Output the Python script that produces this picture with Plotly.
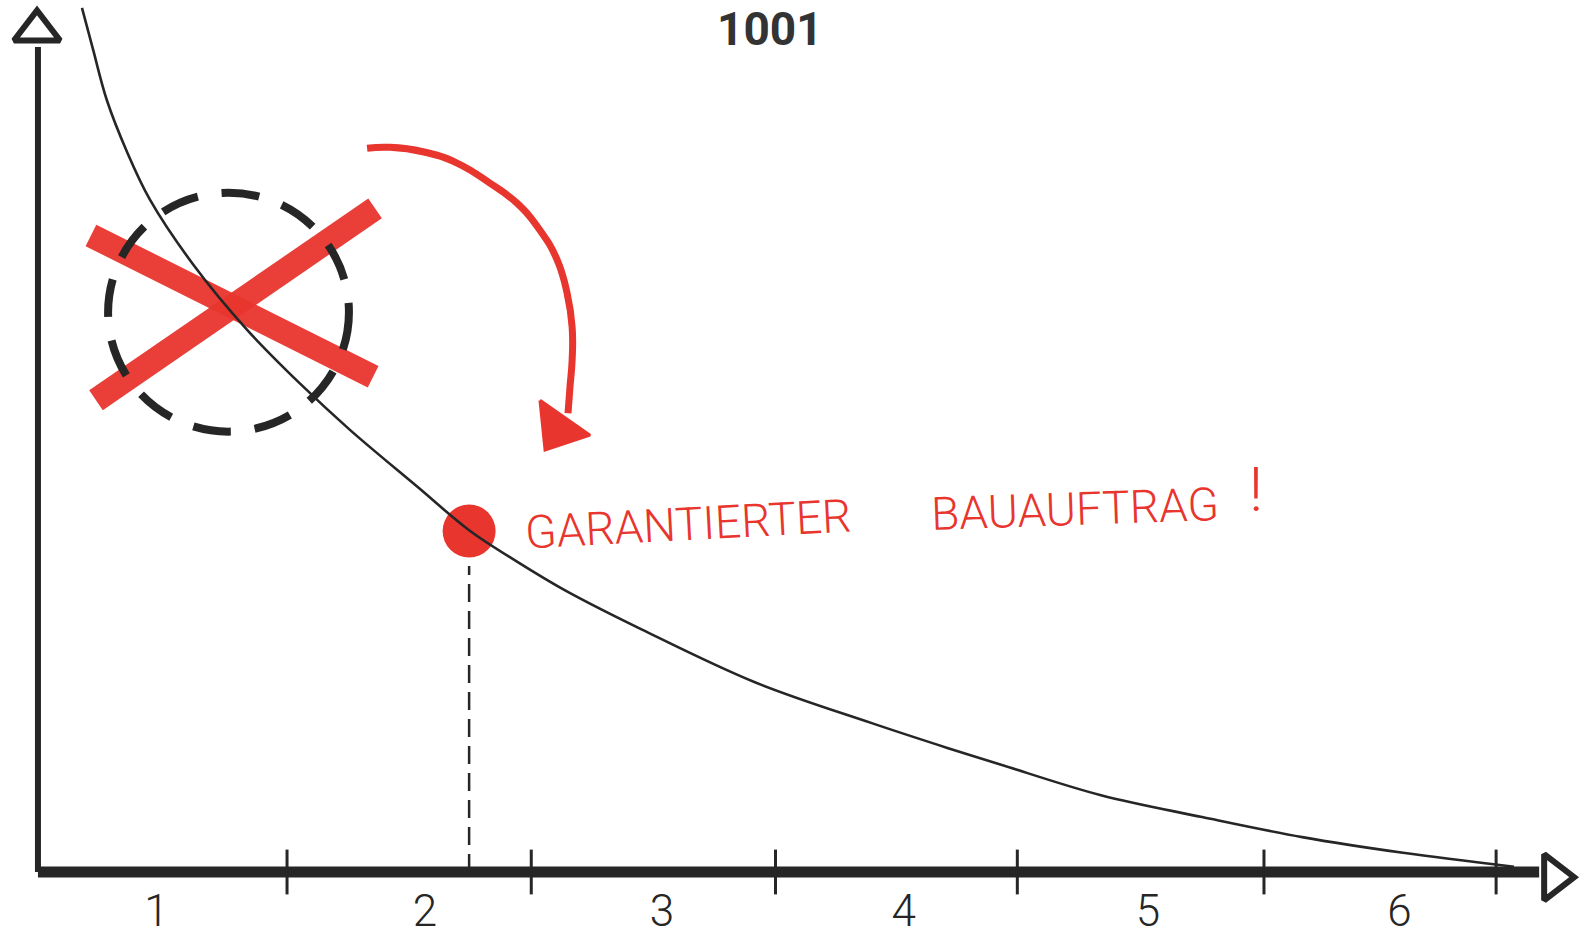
import plotly.graph_objects as go

# ---------------- data ----------------
tick_labels = ["1", "2", "3", "4", "5", "6"]
label_x = [0.96, 2.07, 3.05, 4.05, 5.06, 6.10]
label_y = [-4.95] * 6
tick_x = [1.5, 2.51, 3.52, 4.52, 5.54, 6.5]

curve_x = [0.652, 0.698, 0.755, 0.838, 0.933, 1.111, 1.334, 1.554, 1.760, 2.038,
           2.253, 2.451, 2.650, 2.968, 3.440, 3.915, 4.234, 4.453, 4.866, 5.284,
           5.698, 6.115, 6.574]
curve_y = [99.1, 94.3, 88.5, 82.6, 77.1, 69.7, 62.2, 56.0, 50.7, 44.2,
           39.2, 35.6, 32.3, 27.8, 21.7, 17.1, 14.2, 12.3, 8.8, 6.3,
           4.0, 2.2, 0.6]

point_x = [2.253]
point_y = [39.1]
point_text = ["GARANTIERTER", "BAUAUFTRAG", "!"]
title_text = "1001"

# crossed-out region (ellipse) and red X
ellipse_x = [0.760, 1.756]
ellipse_y = [50.5, 77.9]
cross1_x = [0.689, 1.856]
cross1_y = [73.0, 56.8]
cross2_x = [0.710, 1.864]
cross2_y = [54.1, 76.1]

# red curved arrow
arc_x = [1.831, 1.926, 2.062, 2.203, 2.339, 2.451, 2.546, 2.617, 2.658, 2.679,
         2.679, 2.670, 2.662]
arc_y = [83.0, 83.1, 82.6, 81.3, 79.0, 76.7, 73.6, 70.2, 66.4, 62.5,
         58.7, 55.6, 52.6]
head_x = [2.546, 2.753, 2.567, 2.546]
head_y = [54.1, 50.1, 48.4, 54.1]

# axes extents
x_range = [0.313, 6.880]
y_range = [-9.06, 100.0]
y_axis_x = 0.470
y_axis_top = 94.6
x_axis_end = 6.678

INK = "#262626"
RED = "#e8352e"

fig = go.Figure()

# red X (below everything else)
for cx, cy in ((cross1_x, cross1_y), (cross2_x, cross2_y)):
    fig.add_trace(go.Scatter(x=cx, y=cy, mode="lines",
                             line=dict(color=RED, width=24), opacity=0.95,
                             hoverinfo="skip"))

# red curved arrow
fig.add_trace(go.Scatter(x=arc_x, y=arc_y, mode="lines",
                         line=dict(color=RED, width=7, shape="spline", smoothing=1.3),
                         hoverinfo="skip"))
fig.add_trace(go.Scatter(x=head_x, y=head_y, mode="lines", fill="toself",
                         fillcolor=RED, line=dict(color=RED, width=3),
                         hoverinfo="skip"))

# y axis line
fig.add_trace(go.Scatter(x=[y_axis_x, y_axis_x], y=[0, y_axis_top], mode="lines",
                         line=dict(color=INK, width=6), hoverinfo="skip"))
# x axis line
fig.add_trace(go.Scatter(x=[y_axis_x, x_axis_end], y=[0, 0], mode="lines",
                         line=dict(color=INK, width=11), hoverinfo="skip"))

# arrow heads of axes
fig.add_trace(go.Scatter(x=[0.466], y=[96.5], mode="markers",
                         marker=dict(symbol="triangle-up-open", size=40, color=INK,
                                     line=dict(width=6, color=INK)),
                         hoverinfo="skip"))
fig.add_trace(go.Scatter(x=[6.740], y=[-0.6], mode="markers",
                         marker=dict(symbol="triangle-right-open", size=40, color=INK,
                                     line=dict(width=6, color=INK)),
                         hoverinfo="skip"))

# ticks crossing the axis
fig.add_trace(go.Scatter(x=tick_x, y=[0] * len(tick_x), mode="markers",
                         marker=dict(symbol="line-ns", size=32, color=INK,
                                     line=dict(width=3, color=INK)),
                         hoverinfo="skip"))

# tick labels
fig.add_trace(go.Scatter(x=label_x, y=label_y, mode="text", text=tick_labels,
                         textposition="middle center",
                         textfont=dict(family="Roboto", size=44, color=INK, weight=300),
                         hoverinfo="skip"))

# dashed drop line from the point to the axis
fig.add_trace(go.Scatter(x=[point_x[0], point_x[0]], y=[0, point_y[0] - 4], mode="lines",
                         line=dict(color=INK, width=2.5, dash="18px,9px"),
                         hoverinfo="skip"))

# highlighted point
fig.add_trace(go.Scatter(x=point_x, y=point_y, mode="markers",
                         marker=dict(size=53, color=RED, line=dict(width=0)),
                         hoverinfo="skip"))

# main curve
fig.add_trace(go.Scatter(x=curve_x, y=curve_y, mode="lines",
                         line=dict(color=INK, width=2.6, shape="spline", smoothing=1.0),
                         hoverinfo="skip"))

# dashed ellipse around the crossed-out zone
fig.add_shape(type="circle", xref="x", yref="y",
              x0=ellipse_x[0], x1=ellipse_x[1], y0=ellipse_y[0], y1=ellipse_y[1],
              line=dict(color=INK, width=8, dash="38px,24px"), layer="above")

# annotations
fig.add_annotation(x=3.158, y=39.9, xref="x", yref="y", text=point_text[0],
                   showarrow=False, textangle=-3,
                   font=dict(family="Roboto", size=46, color=RED, weight=300))
fig.add_annotation(x=4.759, y=41.6, xref="x", yref="y", text=point_text[1],
                   showarrow=False, textangle=-2,
                   font=dict(family="Roboto", size=46, color=RED, weight=300))
fig.add_annotation(x=5.507, y=43.9, xref="x", yref="y", text=point_text[2],
                   showarrow=False,
                   font=dict(family="Roboto", size=62, color=RED, weight=300))

# title at the top edge
fig.add_annotation(x=0.485, y=1.0, xref="paper", yref="paper", text=title_text,
                   showarrow=False, yanchor="top",
                   font=dict(family="Roboto", size=46, color="#333333", weight=700))

fig.update_layout(
    width=1588, height=951,
    margin=dict(l=0, r=0, t=0, b=0),
    paper_bgcolor="white", plot_bgcolor="white",
    showlegend=False,
    xaxis=dict(range=x_range, visible=False, fixedrange=True),
    yaxis=dict(range=y_range, visible=False, fixedrange=True),
)

fig.write_html("out.html", config={"displayModeBar": False},
               post_script="document.body.style.margin='0';document.body.style.overflow='hidden';")
